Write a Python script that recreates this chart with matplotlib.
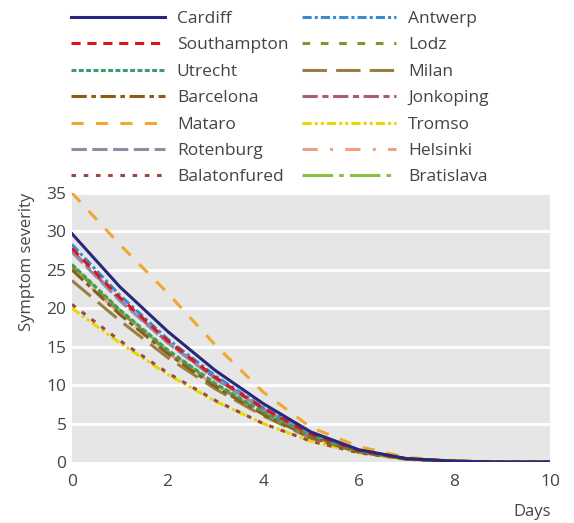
import matplotlib
matplotlib.use("Agg")
import matplotlib.pyplot as plt

plt.rcParams['font.family'] = ['Open Sans', 'DejaVu Sans']

days = [0, 1, 2, 3, 4, 5, 6, 7, 8, 9, 10]

cardiff      = [29.7, 22.8, 17.0, 11.9, 7.6, 3.9, 1.6, 0.45, 0.1, 0.0, 0.0]
southampton  = [27.8, 21.4, 15.8, 11.0, 7.0, 3.6, 1.5, 0.40, 0.1, 0.0, 0.0]
utrecht      = [25.7, 19.8, 14.6, 10.2, 6.5, 3.4, 1.4, 0.40, 0.1, 0.0, 0.0]
barcelona    = [25.0, 19.2, 14.1, 9.8, 6.2, 3.2, 1.3, 0.40, 0.1, 0.0, 0.0]
mataro       = [35.0, 28.3, 22.0, 15.2, 9.1, 4.5, 2.0, 0.60, 0.1, 0.0, 0.0]
rotenburg    = [27.3, 21.0, 15.5, 10.8, 6.9, 3.5, 1.5, 0.40, 0.1, 0.0, 0.0]
balatonfured = [20.5, 15.8, 11.6, 8.0, 5.0, 2.7, 1.2, 0.35, 0.1, 0.0, 0.0]
antwerp      = [28.3, 21.7, 16.0, 11.2, 7.1, 3.7, 1.5, 0.40, 0.1, 0.0, 0.0]
lodz         = [25.5, 19.6, 14.4, 10.0, 6.4, 3.3, 1.4, 0.40, 0.1, 0.0, 0.0]
milan        = [23.6, 18.4, 13.6, 9.5, 6.0, 3.1, 1.3, 0.40, 0.1, 0.0, 0.0]
jonkoping    = [27.5, 21.1, 15.6, 10.9, 6.9, 3.6, 1.5, 0.40, 0.1, 0.0, 0.0]
tromso       = [20.0, 15.5, 11.4, 7.9, 5.0, 2.7, 1.2, 0.35, 0.1, 0.0, 0.0]
helsinki     = [25.1, 19.3, 14.2, 9.9, 6.3, 3.3, 1.4, 0.40, 0.1, 0.0, 0.0]
bratislava   = [25.6, 19.7, 14.5, 10.1, 6.4, 3.3, 1.4, 0.40, 0.1, 0.0, 0.0]

names = ["Cardiff", "Southampton", "Utrecht", "Barcelona", "Mataro", "Rotenburg", "Balatonfured",
         "Antwerp", "Lodz", "Milan", "Jonkoping", "Tromso", "Helsinki", "Bratislava"]
series = [cardiff, southampton, utrecht, barcelona, mataro, rotenburg, balatonfured,
          antwerp, lodz, milan, jonkoping, tromso, helsinki, bratislava]
colors = ["#27287a", "#d7191c", "#3e9a6a", "#8b5e14", "#f0a830", "#938aa8", "#9a4a40",
          "#3a8ad0", "#7a9a30", "#9a8040", "#a85a80", "#e6d800", "#f4a080", "#88c040"]
styles = ["-", (0, (3, 2.2)), (0, (1.6, 0.8)), (0, (5, 1.5, 1.5, 1.5)), (0, (4, 4)),
          (0, (5, 1.8)), (0, (1.5, 2.5)),
          (0, (3, 1, 1, 1)), (0, (2.5, 3.5)), (0, (8, 3)), (0, (5, 1.5, 2, 1.5)),
          (0, (3, 1, 1, 1, 1, 1)), (0, (5, 4, 1, 4)), (0, (10, 2, 1.5, 2))]

fig = plt.figure(figsize=(5.74, 5.23), dpi=100)
ax = fig.add_axes([72/574, 1-462/523, (550-72)/574, (462-193)/523])
ax.set_facecolor("#e6e6e6")
for v in [5, 10, 15, 20, 25, 30, 35]:
    ax.axhline(v, color="white", lw=2, zorder=1)

handles = []
for i in reversed(range(len(series))):
    h, = ax.plot(days, series[i], color=colors[i], linestyle=styles[i], lw=2.2, zorder=2 + (len(series) - i))
    handles.append((i, h))
handles = [h for i, h in sorted(handles, key=lambda t: t[0])]

ax.set_xlim(0, 10)
ax.set_ylim(0, 35)
ax.set_xticks([0, 2, 4, 6, 8, 10])
ax.set_yticks([0, 5, 10, 15, 20, 25, 30, 35])
for s in ax.spines.values():
    s.set_visible(False)
ax.tick_params(axis='both', labelsize=12.5, colors="#444444", length=0, pad=4)
ax.tick_params(axis='x', length=5, color="white", width=1.5, direction='out')
ax.set_ylabel("Symptom severity", fontsize=12, color="#444444")
ax.yaxis.set_label_coords(-37/478, 0.745)
fig.text(532/574, 1-512/523, "Days", fontsize=12, color="#444444", ha="center", va="center")

leg = fig.legend(handles, names, ncol=2, loc="upper left", bbox_to_anchor=(64/574, 1-4/523),
                 frameon=False, fontsize=12.5, handlelength=5.4, handletextpad=0.7,
                 columnspacing=0.8, labelspacing=0.59, borderaxespad=0)
for t in leg.get_texts():
    t.set_color("#444444")

fig.savefig("out.png", dpi=100)
